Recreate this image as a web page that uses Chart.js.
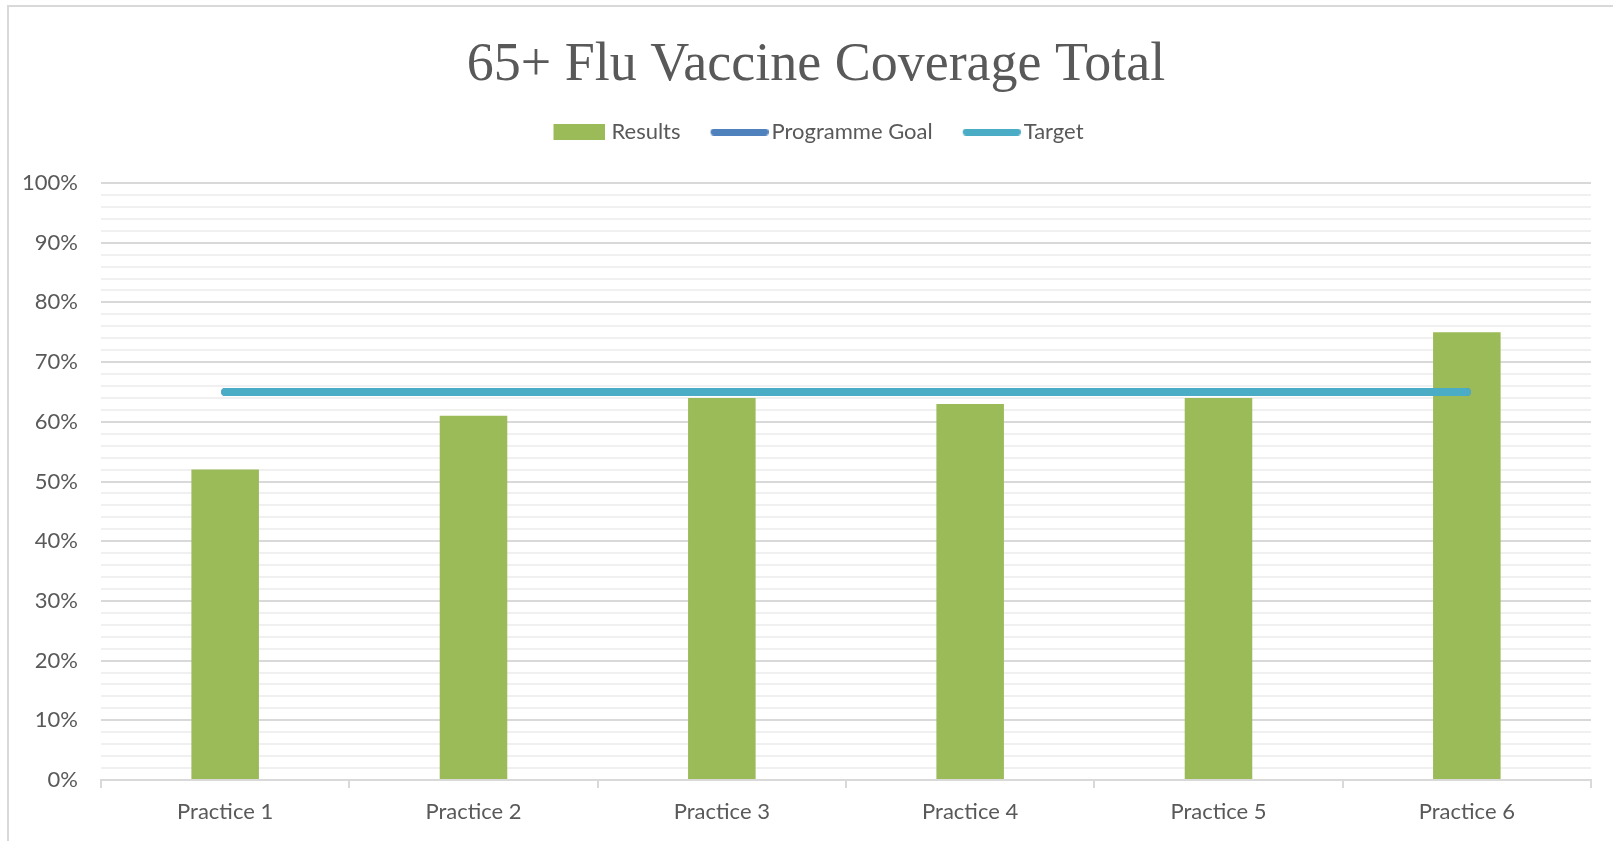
<!DOCTYPE html>
<html>
<head>
<meta charset="utf-8">
<script src="https://cdn.jsdelivr.net/npm/chart.js@4"></script>
<style>
  html, body { margin: 0; padding: 0; background: #fff; overflow: hidden; }
  #frame { position: absolute; left: 7px; top: 5px; width: 1700px; height: 900px; border: 2px solid #d9d9d9; box-sizing: border-box; }
  #wrap { position: absolute; left: 0; top: 0; width: 1613px; height: 841px; }
</style>
</head>
<body>
<div id="frame"></div>
<div id="wrap"><canvas id="c" width="1613" height="841"></canvas></div>
<script>
const categories = ['Practice 1', 'Practice 2', 'Practice 3', 'Practice 4', 'Practice 5', 'Practice 6'];
const results = [52, 61, 64, 63, 64, 75];
const programmeGoal = [65, 65, 65, 65, 65, 65];
const target = [65, 65, 65, 65, 65, 65];
const titleText = '65+ Flu Vaccine Coverage Total';

const textColor = '#595959';
const FONT = 'Lato';

// legend marker images (transparent left margin so the text sits close to the marker)
function makeImg(w, h, lead, color, round) {
  const c = document.createElement('canvas');
  c.width = w + lead; c.height = h;
  const x = c.getContext('2d');
  x.fillStyle = color;
  if (round) {
    const r = h / 2;
    x.beginPath();
    x.moveTo(lead + r, 0); x.lineTo(lead + w - r, 0); x.arc(lead + w - r, r, r, -Math.PI / 2, Math.PI / 2);
    x.lineTo(lead + r, h); x.arc(lead + r, r, r, Math.PI / 2, Math.PI * 1.5);
    x.closePath(); x.fill();
  } else {
    x.fillRect(lead, 0, w, h);
  }
  return c;
}
const imgResults = makeImg(52, 16, 10, '#9BBB59', false);
const imgGoal = makeImg(58, 7, 10, '#4F81BD', true);
const imgTarget = makeImg(58, 7, 10, '#4BACC6', true);

const layoutTweaks = {
  id: 'layoutTweaks',
  afterInit(chart) {
    const lg = chart.legend;
    const origFit = lg.fit;
    lg.fit = function () { origFit.call(this); this.height += 30; };
  },
  afterLayout(chart) {
    // let the y tick labels use the space left of the axis box (no clipping)
    chart.scales.y.left = 0;
  }
};

new Chart(document.getElementById('c'), {
  data: {
    labels: categories,
    datasets: [
      { type: 'line', label: 'Target', data: target, borderColor: '#4BACC6', backgroundColor: '#4BACC6', borderWidth: 8, borderCapStyle: 'round', pointRadius: 0, order: 0 },
      { type: 'line', label: 'Programme Goal', data: programmeGoal, borderColor: '#4F81BD', backgroundColor: '#4F81BD', borderWidth: 8, borderCapStyle: 'round', pointRadius: 0, order: 1 },
      { type: 'bar', label: 'Results', data: results, backgroundColor: '#9BBB59', borderWidth: 0, categoryPercentage: 1, barPercentage: 0.272, order: 2 }
    ]
  },
  plugins: [layoutTweaks],
  options: {
    responsive: false,
    animation: false,
    layout: { padding: { left: 41, right: 22, top: 0, bottom: 0 } },
    plugins: {
      tooltip: { enabled: false },
      title: {
        display: true, text: titleText, color: textColor,
        font: { family: 'Liberation Serif', size: 54, weight: 'normal', lineHeight: 1 },
        padding: { top: 39, bottom: 0 }
      },
      legend: {
        display: true, position: 'top',
        labels: {
          color: textColor,
          font: { family: FONT, size: 22 },
          usePointStyle: true, pointStyleWidth: 52, boxHeight: 16,
          padding: 28,
          generateLabels: (chart) => [
            { text: 'Results', pointStyle: imgResults, fillStyle: '#9BBB59', strokeStyle: '#9BBB59', lineWidth: 0, fontColor: textColor, datasetIndex: 2 },
            { text: 'Programme Goal', pointStyle: imgGoal, fillStyle: '#4F81BD', strokeStyle: '#4F81BD', lineWidth: 0, fontColor: textColor, datasetIndex: 1 },
            { text: 'Target', pointStyle: imgTarget, fillStyle: '#4BACC6', strokeStyle: '#4BACC6', lineWidth: 0, fontColor: textColor, datasetIndex: 0 }
          ]
        }
      }
    },
    scales: {
      x: {
        offset: true,
        grid: { display: true, offset: true, drawOnChartArea: false, drawTicks: true, tickLength: 8, color: '#d9d9d9', lineWidth: 2 },
        border: { display: true, color: '#d9d9d9', width: 2 },
        ticks: { color: textColor, font: { family: FONT, size: 22 }, padding: 11, maxRotation: 0 },
        afterFit: (s) => { s.height = 61; }
      },
      y: {
        min: 0, max: 100,
        grid: {
          drawTicks: false,
          color: (ctx) => (ctx.tick && ctx.tick.value % 10 === 0) ? '#d9d9d9' : '#f0f0f0',
          lineWidth: 2
        },
        border: { display: false },
        ticks: {
          stepSize: 2, autoSkip: false, padding: 23,
          color: textColor, font: { family: FONT, size: 22 },
          callback: (v) => (v % 10 === 0) ? v + '%' : ''
        },
        afterFit: (s) => { s.width = 60; }
      }
    }
  }
});
</script>
</body>
</html>
